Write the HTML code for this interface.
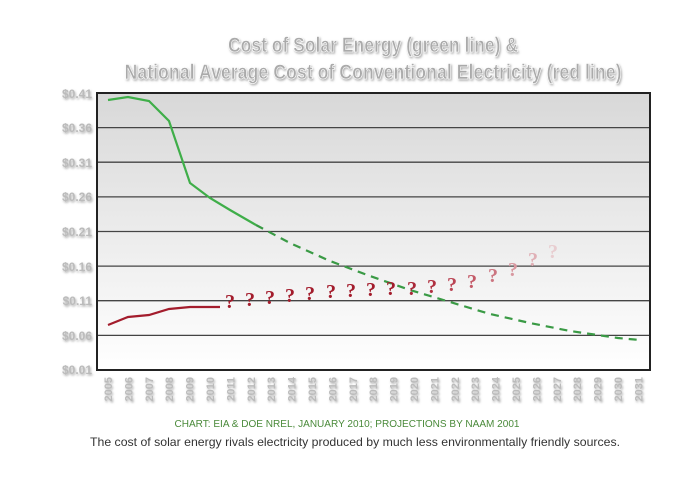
<!DOCTYPE html>
<html><head><meta charset="utf-8"><style>
html,body{margin:0;padding:0;background:#fff;}
svg{display:block;}
.t{font-family:"Liberation Sans Narrow","Liberation Sans",sans-serif;font-weight:bold;fill:#aaa;stroke:#fff;stroke-width:0.6;}
.yl{font-family:"Liberation Sans Narrow","Liberation Sans",sans-serif;font-weight:bold;font-size:12px;fill:#bbb;}
.xl{font-family:"Liberation Sans Narrow","Liberation Sans",sans-serif;font-weight:bold;font-size:11px;fill:#bbb;}
.q{font-family:"Liberation Serif",serif;font-weight:bold;font-size:20px;}
</style></head><body>
<svg width="696" height="479" viewBox="0 0 696 479" xmlns="http://www.w3.org/2000/svg">
<defs>
<linearGradient id="bg" x1="0" y1="0" x2="0" y2="1">
<stop offset="0" stop-color="#d8d8d8"/><stop offset="1" stop-color="#ffffff"/>
</linearGradient>
<filter id="sh"><feDropShadow dx="1" dy="1.5" stdDeviation="1" flood-color="#777" flood-opacity="0.6"/></filter>
</defs>
<g filter="url(#sh)">
<text class="t" x="373" y="52" font-size="21" text-anchor="middle" textLength="290" lengthAdjust="spacingAndGlyphs">Cost of Solar Energy (green line) &amp;</text>
<text class="t" x="373" y="79" font-size="21" text-anchor="middle" textLength="497" lengthAdjust="spacingAndGlyphs">National Average Cost of Conventional Electricity (red line)</text>
</g>
<rect x="97" y="93" width="553" height="277" fill="url(#bg)"/>
<g stroke="#444" stroke-width="1.3">
<line x1="97" y1="127.6" x2="650" y2="127.6"/>
<line x1="97" y1="162.2" x2="650" y2="162.2"/>
<line x1="97" y1="196.9" x2="650" y2="196.9"/>
<line x1="97" y1="231.5" x2="650" y2="231.5"/>
<line x1="97" y1="266.1" x2="650" y2="266.1"/>
<line x1="97" y1="300.7" x2="650" y2="300.7"/>
<line x1="97" y1="335.4" x2="650" y2="335.4"/>
</g>
<rect x="97" y="93" width="553" height="277" fill="none" stroke="#222" stroke-width="2"/>
<g class="yl" text-anchor="end" filter="url(#sh)">
<text x="92" y="98">$0.41</text><text x="92" y="132">$0.36</text><text x="92" y="167">$0.31</text>
<text x="92" y="201">$0.26</text><text x="92" y="236">$0.21</text><text x="92" y="271">$0.16</text>
<text x="92" y="305">$0.11</text><text x="92" y="340">$0.06</text><text x="92" y="374">$0.01</text>
</g>
<g class="xl" text-anchor="end" filter="url(#sh)">
<text transform="translate(112,377) rotate(-90)">2005</text><text transform="translate(132.4,377) rotate(-90)">2006</text><text transform="translate(152.8,377) rotate(-90)">2007</text><text transform="translate(173.2,377) rotate(-90)">2008</text><text transform="translate(193.6,377) rotate(-90)">2009</text><text transform="translate(214,377) rotate(-90)">2010</text><text transform="translate(234.4,377) rotate(-90)">2011</text><text transform="translate(254.8,377) rotate(-90)">2012</text><text transform="translate(275.2,377) rotate(-90)">2013</text><text transform="translate(295.6,377) rotate(-90)">2014</text><text transform="translate(316,377) rotate(-90)">2015</text><text transform="translate(336.4,377) rotate(-90)">2016</text><text transform="translate(356.8,377) rotate(-90)">2017</text><text transform="translate(377.2,377) rotate(-90)">2018</text><text transform="translate(397.6,377) rotate(-90)">2019</text><text transform="translate(418,377) rotate(-90)">2020</text><text transform="translate(438.4,377) rotate(-90)">2021</text><text transform="translate(458.8,377) rotate(-90)">2022</text><text transform="translate(479.2,377) rotate(-90)">2023</text><text transform="translate(499.6,377) rotate(-90)">2024</text><text transform="translate(520,377) rotate(-90)">2025</text><text transform="translate(540.4,377) rotate(-90)">2026</text><text transform="translate(560.8,377) rotate(-90)">2027</text><text transform="translate(581.2,377) rotate(-90)">2028</text><text transform="translate(601.6,377) rotate(-90)">2029</text><text transform="translate(622,377) rotate(-90)">2030</text><text transform="translate(642.4,377) rotate(-90)">2031</text>
</g>
<polyline fill="none" stroke="#3fae49" stroke-width="2.2" points="108,100 128,97 149,101 169,121 190,183 210,198 230,210 256,225"/>
<polyline fill="none" stroke="#3a9a45" stroke-width="2.2" stroke-dasharray="8,6" points="256,225 290,243 330,261 370,276 410,290 450,302 490,314 530,323 570,331 618,338 640,340"/>
<polyline fill="none" stroke="#a31c2c" stroke-width="2.2" points="108,325 128,317 149,315 169,309 190,307 220,307"/>
<g class="q" text-anchor="middle">
<text x="230" y="308" fill="#a31c2c">?</text><text x="250" y="306" fill="#a31c2c">?</text><text x="270" y="304" fill="#a31c2c">?</text><text x="290" y="302" fill="#a31c2c">?</text><text x="310" y="300" fill="#a31c2c">?</text><text x="331" y="298" fill="#a31c2c">?</text><text x="351" y="297" fill="#a31c2c">?</text><text x="371" y="296" fill="#a31c2c">?</text><text x="391" y="295" fill="#a31c2c">?</text><text x="412" y="295" fill="#a92738">?</text><text x="432" y="293" fill="#b03040">?</text><text x="452" y="291" fill="#bb4555">?</text><text x="472" y="288" fill="#c45a68">?</text><text x="493" y="282" fill="#cc7580">?</text><text x="513" y="276" fill="#d898a0">?</text><text x="533" y="266" fill="#e0b0b6">?</text><text x="553" y="258" fill="#e8cdd0">?</text>
</g>
<text x="347" y="427" text-anchor="middle" font-family="Liberation Sans,sans-serif" font-size="10" fill="#4a8a3a" textLength="345" lengthAdjust="spacingAndGlyphs">CHART: EIA &amp; DOE NREL, JANUARY 2010; PROJECTIONS BY NAAM 2001</text>
<text x="355" y="446" text-anchor="middle" font-family="Liberation Sans,sans-serif" font-size="12" fill="#333" textLength="530" lengthAdjust="spacingAndGlyphs">The cost of solar energy rivals electricity produced by much less environmentally friendly sources.</text>
</svg>
</body></html>
